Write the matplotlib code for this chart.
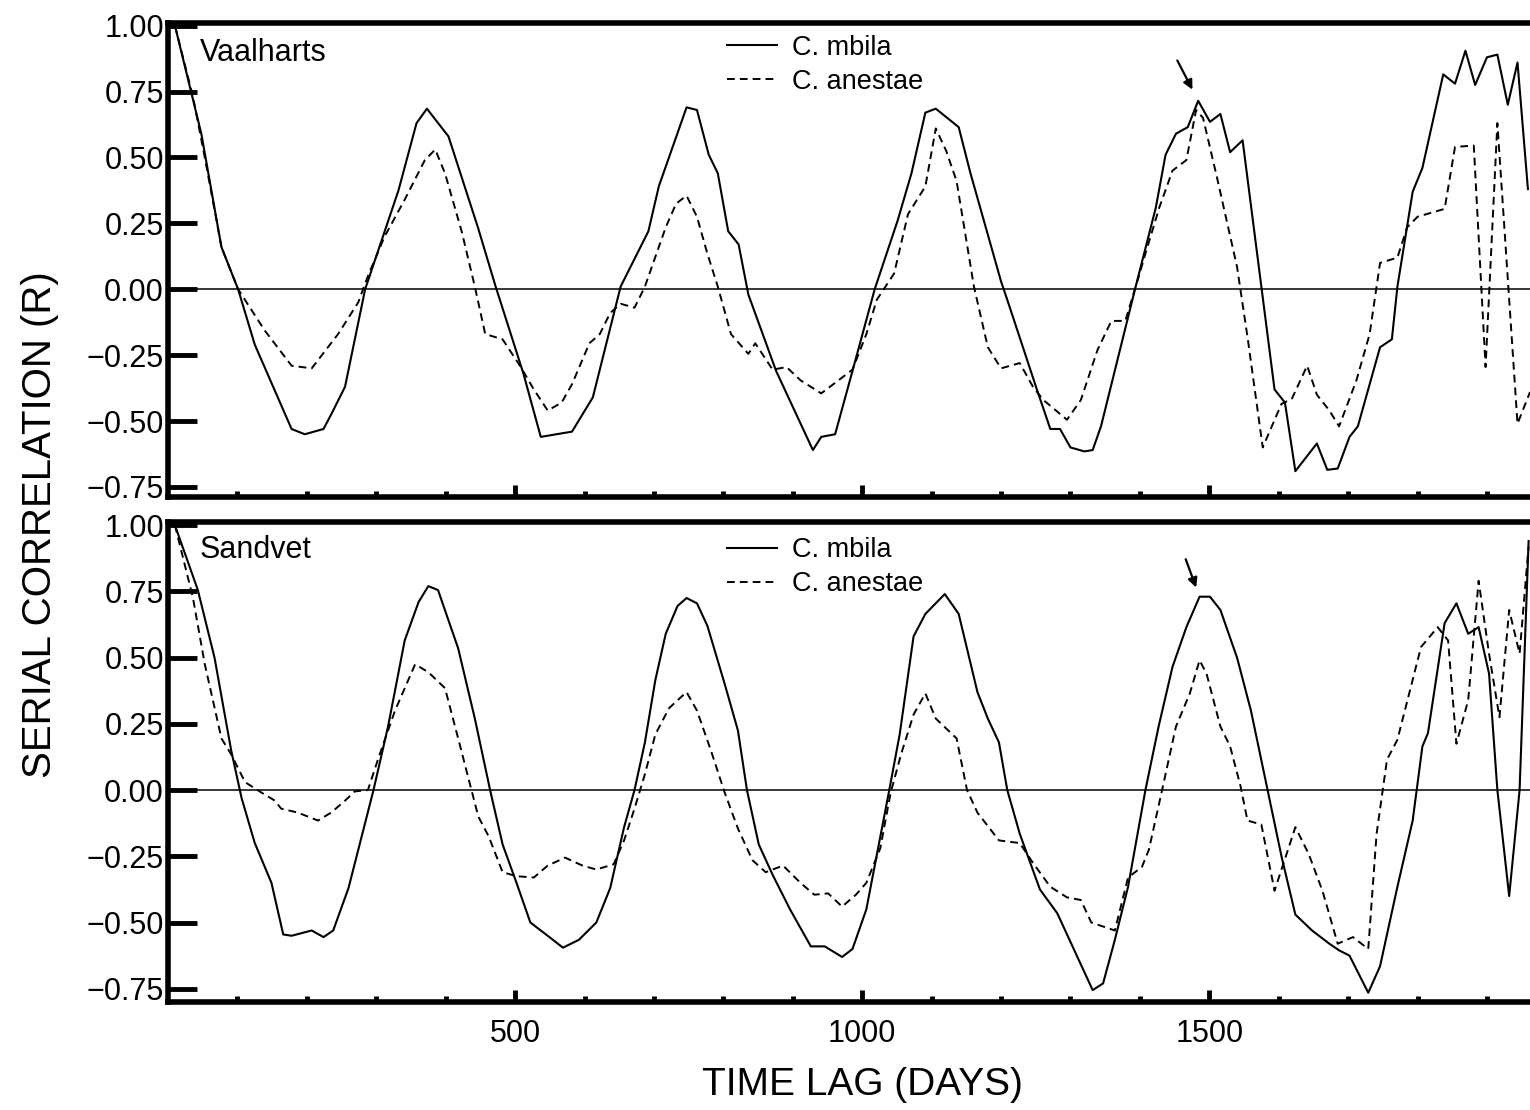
import numpy as np
import matplotlib
matplotlib.use('Agg')
import matplotlib.pyplot as plt
from matplotlib.lines import Line2D

# Serial correlation vs time lag
# Vaalharts (top panel)
vaal_mbila_day = [10, 48, 77, 101, 125, 178, 197, 224, 236, 255,
                  284, 332, 358, 373, 404, 447, 472, 512, 537, 582,
                  612, 652, 692, 707, 737, 747, 762, 779, 792, 807,
                  822, 836, 876, 929, 941, 961, 986, 1018, 1051, 1071,
                  1091, 1106, 1139, 1156, 1200, 1209, 1251, 1271, 1285, 1300,
                  1320, 1332, 1344, 1393, 1423, 1437, 1452, 1469, 1484, 1501,
                  1516, 1530, 1548, 1575, 1594, 1609, 1624, 1655, 1670, 1685,
                  1702, 1714, 1746, 1763, 1771, 1793, 1807, 1837, 1854, 1869,
                  1883, 1900, 1915, 1930, 1944, 1959]
vaal_mbila_r = [1.0, 0.59, 0.16, 0.0, -0.21, -0.53, -0.55, -0.53, -0.47, -0.37,
                0.0, 0.375, 0.63, 0.685, 0.58, 0.23, 0.01, -0.32, -0.56, -0.54,
                -0.41, 0.01, 0.22, 0.39, 0.615, 0.69, 0.68, 0.51, 0.44, 0.22,
                0.17, -0.02, -0.31, -0.61, -0.56, -0.55, -0.31, 0.0, 0.26, 0.44,
                0.67, 0.685, 0.615, 0.44, 0.03, -0.04, -0.375, -0.53, -0.53, -0.60,
                -0.615, -0.61, -0.52, 0.0, 0.31, 0.51, 0.59, 0.615, 0.715, 0.635,
                0.665, 0.52, 0.565, 0.01, -0.38, -0.43, -0.69, -0.585, -0.685, -0.68,
                -0.56, -0.52, -0.22, -0.19, 0.01, 0.37, 0.46, 0.815, 0.78, 0.905,
                0.775, 0.88, 0.89, 0.70, 0.86, 0.38]

vaal_anes_day = [10, 36, 53, 77, 101, 139, 178, 207, 245, 274,
                 288, 312, 341, 370, 385, 399, 423, 442, 457, 482,
                 507, 527, 547, 567, 582, 607, 622, 637, 652, 672,
                 687, 717, 732, 747, 762, 777, 792, 811, 836, 846,
                 871, 891, 911, 941, 966, 986, 1006, 1021, 1046, 1066,
                 1091, 1106, 1121, 1136, 1161, 1181, 1200, 1227, 1246, 1261,
                 1295, 1315, 1339, 1359, 1379, 1398, 1408, 1428, 1447, 1467,
                 1481, 1491, 1511, 1540, 1555, 1577, 1604, 1619, 1641, 1655,
                 1673, 1687, 1712, 1731, 1746, 1771, 1785, 1800, 1839, 1854,
                 1881, 1898, 1915, 1944, 1962]
vaal_anes_r = [1.0, 0.73, 0.50, 0.16, 0.0, -0.155, -0.29, -0.30, -0.17, -0.05,
               0.05, 0.20, 0.34, 0.49, 0.53, 0.44, 0.22, 0.01, -0.17, -0.19,
               -0.29, -0.38, -0.46, -0.43, -0.36, -0.205, -0.17, -0.09, -0.055, -0.07,
               0.01, 0.235, 0.325, 0.355, 0.275, 0.135, 0.01, -0.17, -0.245, -0.205,
               -0.305, -0.295, -0.345, -0.395, -0.345, -0.305, -0.17, -0.04, 0.06, 0.285,
               0.39, 0.61, 0.525, 0.41, 0.01, -0.22, -0.30, -0.28, -0.37, -0.42,
               -0.495, -0.42, -0.23, -0.12, -0.12, 0.045, 0.135, 0.31, 0.45, 0.49,
               0.68, 0.65, 0.425, 0.085, -0.18, -0.60, -0.435, -0.415, -0.29, -0.40,
               -0.46, -0.52, -0.345, -0.17, 0.10, 0.12, 0.235, 0.275, 0.305, 0.54,
               0.545, -0.295, 0.63, -0.51, -0.39]

# Sandvet (bottom panel)
sand_mbila_day = [10, 43, 67, 91, 106, 125, 149, 166, 178, 207,
                  224, 238, 260, 279, 296, 317, 341, 361, 375, 389,
                  418, 442, 464, 482, 502, 522, 547, 569, 592, 617,
                  637, 657, 672, 687, 702, 717, 734, 747, 762, 777,
                  802, 821, 834, 851, 871, 896, 926, 946, 971, 986,
                  1006, 1039, 1054, 1074, 1091, 1119, 1139, 1166, 1181, 1197,
                  1209, 1227, 1256, 1281, 1332, 1347, 1364, 1383, 1408, 1427,
                  1447, 1467, 1486, 1501, 1516, 1540, 1560, 1584, 1604, 1624,
                  1648, 1673, 1687, 1702, 1729, 1746, 1771, 1793, 1807, 1815,
                  1839, 1856, 1873, 1888, 1903, 1915, 1932, 1947, 1960]
sand_mbila_r = [1.0, 0.755, 0.50, 0.15, -0.03, -0.20, -0.35, -0.545, -0.55, -0.53,
                -0.555, -0.53, -0.37, -0.175, 0.0, 0.24, 0.565, 0.71, 0.77, 0.755,
                0.535, 0.27, 0.0, -0.205, -0.35, -0.50, -0.55, -0.595, -0.565, -0.50,
                -0.37, -0.14, 0.0, 0.18, 0.415, 0.59, 0.695, 0.725, 0.705, 0.62,
                0.40, 0.225, 0.0, -0.205, -0.32, -0.45, -0.59, -0.59, -0.63, -0.60,
                -0.45, 0.0, 0.21, 0.58, 0.665, 0.74, 0.665, 0.37, 0.27, 0.18,
                0.0, -0.165, -0.375, -0.465, -0.755, -0.73, -0.565, -0.365, 0.0, 0.24,
                0.465, 0.615, 0.73, 0.73, 0.68, 0.50, 0.30, 0.0, -0.25, -0.47,
                -0.53, -0.58, -0.605, -0.625, -0.765, -0.665, -0.365, -0.115, 0.165, 0.215,
                0.63, 0.705, 0.59, 0.615, 0.44, 0.0, -0.40, 0.0, 0.94]

sand_anes_day = [10, 36, 53, 77, 91, 111, 135, 154, 163, 187,
                 216, 235, 255, 269, 288, 303, 327, 356, 375, 399,
                 418, 447, 462, 482, 502, 527, 547, 572, 597, 617,
                 642, 657, 672, 687, 702, 722, 747, 762, 782, 802,
                 821, 842, 861, 886, 911, 931, 951, 971, 991, 1006,
                 1026, 1041, 1056, 1074, 1091, 1106, 1136, 1151, 1166, 1197,
                 1227, 1246, 1271, 1295, 1315, 1330, 1364, 1383, 1403, 1413,
                 1432, 1452, 1472, 1486, 1496, 1516, 1530, 1545, 1555, 1575,
                 1594, 1624, 1643, 1663, 1685, 1707, 1729, 1741, 1756, 1771,
                 1805, 1829, 1844, 1856, 1873, 1888, 1903, 1918, 1932, 1947,
                 1960]
sand_anes_r = [1.0, 0.725, 0.475, 0.195, 0.135, 0.03, -0.01, -0.04, -0.07, -0.085,
               -0.115, -0.085, -0.04, -0.005, 0.0, 0.12, 0.30, 0.475, 0.445, 0.385,
               0.195, -0.10, -0.175, -0.31, -0.325, -0.33, -0.285, -0.255, -0.285, -0.30,
               -0.28, -0.19, -0.07, 0.06, 0.21, 0.31, 0.37, 0.30, 0.15, -0.01,
               -0.145, -0.265, -0.31, -0.285, -0.35, -0.395, -0.39, -0.44, -0.395, -0.35,
               -0.22, -0.01, 0.135, 0.285, 0.365, 0.27, 0.195, 0.0, -0.085, -0.19,
               -0.20, -0.275, -0.365, -0.405, -0.415, -0.50, -0.53, -0.33, -0.29, -0.225,
               0.0, 0.24, 0.365, 0.49, 0.44, 0.24, 0.165, 0.015, -0.115, -0.13,
               -0.38, -0.14, -0.24, -0.38, -0.58, -0.555, -0.60, -0.165, 0.115, 0.19,
               0.54, 0.615, 0.565, 0.175, 0.34, 0.79, 0.515, 0.275, 0.68, 0.515,
               0.92]

panel_names = ['Vaalharts', 'Sandvet']
species = ['C. mbila', 'C. anestae']
ytick_vals = [-0.75, -0.5, -0.25, 0.0, 0.25, 0.5, 0.75, 1.0]
xtick_vals = [500, 1000, 1500]

plt.rcParams['font.family'] = ['Liberation Sans', 'DejaVu Sans']

W, H = 1530, 1110
fig = plt.figure(figsize=(W / 100, H / 100), dpi=100)


def px_box(left, top, right, bottom):
    return [left / W, 1 - bottom / H, (right - left) / W, (bottom - top) / H]


ax_top = fig.add_axes(px_box(168, 23, 1530, 497))
ax_bot = fig.add_axes(px_box(168, 522, 1530, 1002))

panels = [
    (ax_top, vaal_mbila_day, vaal_mbila_r, vaal_anes_day, vaal_anes_r, (-0.788, 1.01)),
    (ax_bot, sand_mbila_day, sand_mbila_r, sand_anes_day, sand_anes_r, (-0.80, 1.012)),
]

for i, (ax, d1, r1, d2, r2, ylim) in enumerate(panels):
    ax.plot(d1, r1, color='black', lw=1.5)
    ax.plot(d2, r2, color='black', lw=1.4, dashes=(4, 2.6))
    ax.axhline(0, color='black', lw=1.1)

    ax.set_xlim(0, 1962)
    ax.set_ylim(*ylim)

    for side in ['top', 'bottom', 'left']:
        ax.spines[side].set_linewidth(4)
    ax.spines['right'].set_visible(False)

    ax.set_yticks(ytick_vals)
    ax.set_yticklabels([f'{v:.2f}'.replace('-', '\u2212') for v in ytick_vals])
    ax.tick_params(axis='y', direction='in', length=21, width=3.5,
                   labelsize=22, pad=3)

    ax.set_xticks(xtick_vals)
    ax.set_xticks(np.arange(100, 1962, 100), minor=True)
    ax.tick_params(axis='x', which='major', direction='in', length=9, width=3.5,
                   labelsize=22, pad=12)
    ax.tick_params(axis='x', which='minor', direction='in', length=4, width=3.5)
    if i == 0:
        ax.tick_params(axis='x', labelbottom=False)

    ax.text(0.0235, 0.937 if i == 0 else 0.942, panel_names[i],
            transform=ax.transAxes, fontsize=22, ha='left', va='center')

    handles = [Line2D([], [], color='black', lw=1.5),
               Line2D([], [], color='black', lw=1.4, dashes=(4, 2.6))]
    ax.legend(handles, species, loc='upper left',
              bbox_to_anchor=(0.4104, 0.975 if i == 0 else 0.968),
              frameon=False, fontsize=19.5, handlelength=1.85, handletextpad=0.55,
              labelspacing=0.3, borderpad=0, borderaxespad=0)

    # arrow pointing at the fifth peak of C. mbila
    d1a = np.array(d1)
    r1a = np.array(r1)
    win = (d1a > 1400) & (d1a < 1600)
    k = np.argmax(np.where(win, r1a, -9))
    off = (-15, 29) if i == 0 else (-10, 27)
    ax.annotate('', xy=(d1a[k], r1a[k]), xytext=off, textcoords='offset points',
                arrowprops=dict(arrowstyle='-|>', color='black', lw=1.6,
                                mutation_scale=14, shrinkA=0,
                                shrinkB=9 if i == 0 else 7))

fig.text(40 / W, 1 - 525 / H, 'SERIAL CORRELATION (R)', rotation=90,
         fontsize=29, ha='center', va='center')
fig.text(862 / W, 1 - 1085 / H, 'TIME LAG (DAYS)',
         fontsize=28, ha='center', va='center')

fig.savefig('out.png', dpi=100)
